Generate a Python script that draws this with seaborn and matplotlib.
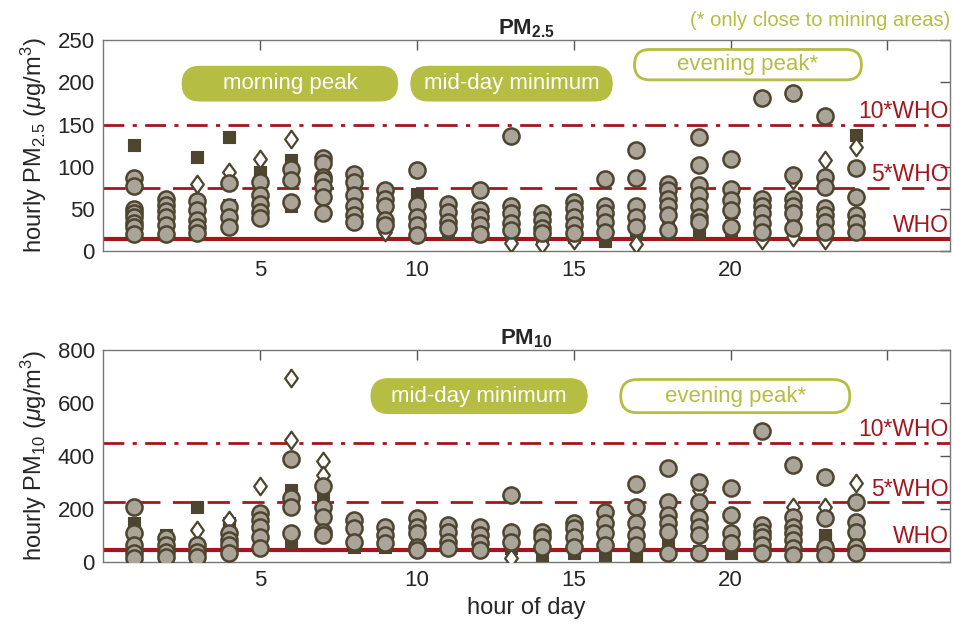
import numpy as np
import pandas as pd
import seaborn as sns
import matplotlib.pyplot as plt
from matplotlib.patches import FancyBboxPatch
from matplotlib.path import Path

sns.set_style("white")
plt.rcParams["font.family"] = ["Liberation Sans", "DejaVu Sans"]
plt.rcParams["mathtext.fontset"] = "custom"
plt.rcParams["mathtext.rm"] = "Liberation Sans"
plt.rcParams["mathtext.it"] = "Liberation Sans:italic"
plt.rcParams["mathtext.bf"] = "Liberation Sans:bold"

hours = list(range(1, 25))

# PM2.5 hourly concentrations per site type (index 0 = hour 1)
pm25_circles = [
    [87, 77, 50, 45, 41, 33, 29, 20], [62, 55, 48, 41, 31, 20], [60, 49, 37, 29, 21],
    [81, 52, 41, 29], [82, 66, 56, 47, 39], [97, 84, 58],
    [110, 104, 88, 84, 76, 64, 45], [91, 82, 66, 54, 43, 35], [72, 62, 54, 37, 31],
    [96, 55, 41, 31, 19], [56, 47, 35, 27], [73, 49, 41, 31, 20],
    [137, 54, 45, 33, 25], [45, 37, 27, 21], [58, 51, 41, 31, 21],
    [85, 53, 45, 35, 23], [120, 87, 53, 41, 29], [80, 72, 62, 53, 43, 25],
    [135, 102, 78, 66, 53, 41, 35], [109, 74, 61, 49, 29], [182, 62, 54, 45, 33, 23],
    [188, 90, 62, 54, 45, 27], [160, 88, 76, 51, 43, 35, 23], [99, 64, 43, 33, 23],
]
pm25_squares = [
    [126, 48, 38], [55, 50], [112, 48, 41], [135, 55, 52], [94, 84, 72], [108, 53],
    [82, 78], [52], [38, 32], [68, 66, 38, 24], [22], [],
    [23], [18], [17], [15, 12], [21], [28, 23],
    [21], [46, 25], [], [47, 33], [], [138, 42],
]
pm25_diamonds = [
    [], [], [80], [94], [109], [133], [], [62], [23], [], [], [],
    [10], [9], [13], [], [9], [], [], [], [13], [84, 17], [108, 13], [124],
]

# PM10 hourly concentrations per site type (index 0 = hour 1)
pm10_circles = [
    [209, 108, 64, 33, 15], [90, 64, 39, 20], [64, 39, 20], [108, 83, 64, 33],
    [186, 159, 133, 96, 52], [388, 241, 209, 108], [287, 209, 171, 115, 102],
    [159, 127, 75], [133, 102, 70], [165, 133, 108, 58, 46], [140, 115, 77, 52],
    [133, 102, 71, 46], [253, 115, 77], [115, 96, 58], [146, 127, 96, 58],
    [190, 146, 108, 64], [295, 209, 146, 102, 64], [354, 228, 177, 146, 115, 33],
    [300, 228, 165, 133, 102, 33], [278, 177, 108, 71], [493, 140, 115, 96, 64, 33],
    [364, 171, 133, 108, 83, 52, 26], [320, 165, 58, 26], [228, 152, 115, 58, 33],
]
pm10_squares = [
    [146, 115], [102], [209, 55], [146, 121], [127, 108], [272, 253, 77],
    [247], [83, 58], [77, 58], [96, 77], [60], [55],
    [52], [26], [33], [26], [33, 20], [71],
    [40], [102, 33], [100, 80], [102], [102, 90], [115, 96],
]
pm10_diamonds = [
    [], [], [121], [159], [287], [694, 461], [379, 329], [], [], [], [], [],
    [14], [], [], [], [], [], [272], [], [], [209], [207], [297],
]

who_pm25 = 15
who_pm10 = 45

RED = "#a3161e"
OLIVE = "#b5bd42"
EDGE = "#4e4530"
GREY = "#aaa499"

diamond = Path([(0, 1), (0.72, 0), (0, -1), (-0.72, 0), (0, 1)],
               [Path.MOVETO, Path.LINETO, Path.LINETO, Path.LINETO, Path.CLOSEPOLY])


def to_frame(lists):
    rows = [(h, v) for h, vals in zip(hours, lists) for v in vals]
    return pd.DataFrame(rows, columns=["hour", "value"])


fig = plt.figure(figsize=(9.54, 6.28), dpi=100)
ax1 = fig.add_axes([0.108, 0.600, 0.888, 0.336])
ax2 = fig.add_axes([0.108, 0.105, 0.888, 0.338])


def pill(ax, x0, x1, y0, y1, text, filled):
    ax_bbox = ax.get_window_extent()
    W, H = ax_bbox.width, ax_bbox.height
    xl, xr = ax.get_xlim()
    yb, yt = ax.get_ylim()
    fx0 = (x0 - xl) / (xr - xl)
    fx1 = (x1 - xl) / (xr - xl)
    fy0 = (y0 - yb) / (yt - yb)
    fy1 = (y1 - yb) / (yt - yb)
    r = (fy1 - fy0) * H / 2 / W
    patch = FancyBboxPatch((fx0, fy0), fx1 - fx0, fy1 - fy0,
                           boxstyle=f"round,pad=0,rounding_size={r}",
                           mutation_aspect=W / H, transform=ax.transAxes,
                           facecolor=OLIVE if filled else "white",
                           edgecolor=OLIVE, linewidth=2, zorder=1, clip_on=False)
    ax.add_patch(patch)
    ax.text((fx0 + fx1) / 2, (fy0 + fy1) / 2, text, transform=ax.transAxes,
            ha="center", va="center", fontsize=16,
            color="white" if filled else OLIVE, zorder=2)


def panel(ax, circles, squares, diamonds, who, ymax, yticks, ylabel, title):
    ax.set_xlim(0, 27)
    ax.set_ylim(0, ymax)
    ax.axhline(who, color=RED, lw=3, zorder=2)
    ax.axhline(5 * who, color=RED, lw=2, ls=(0, (8, 4.5)), zorder=2)
    ax.axhline(10 * who, color=RED, lw=2, ls=(0, (7.5, 3, 1.5, 3)), zorder=2)
    sns.scatterplot(data=to_frame(squares), x="hour", y="value", marker="s", s=64,
                    color=EDGE, edgecolor=EDGE, linewidth=0.8, ax=ax, zorder=3)
    sns.scatterplot(data=to_frame(diamonds), x="hour", y="value", marker=diamond, s=160,
                    color="white", edgecolor=EDGE, linewidth=1.6, ax=ax, zorder=4)
    sns.scatterplot(data=to_frame(circles), x="hour", y="value", marker="o", s=135,
                    color=GREY, edgecolor=EDGE, linewidth=1.8, ax=ax, zorder=5)
    for mult, lab in [(10, "10*WHO"), (5, "5*WHO"), (1, "WHO")]:
        ax.text(26.95, who * mult + ymax * 0.062, lab, ha="right", va="center",
                color=RED, fontsize=16.5, zorder=6)
    ax.set_xticks([5, 10, 15, 20, 25])
    ax.set_xticklabels(["5", "10", "15", "20", ""])
    ax.set_yticks(yticks)
    ax.tick_params(direction="in", length=7, width=1, color="#555555",
                   top=True, right=True, labelsize=16, pad=6)
    for sp in ax.spines.values():
        sp.set_color("#777777")
        sp.set_linewidth(1)
    ax.set_ylabel(ylabel, fontsize=17, labelpad=6)
    ax.set_xlabel("")
    ax.set_title(title, fontsize=16, fontweight="bold", pad=4)


panel(ax1, pm25_circles, pm25_squares, pm25_diamonds, who_pm25, 250,
      [0, 50, 100, 150, 200, 250], r"hourly PM$_{2.5}$ ($\mu$g/m$^3$)", r"PM$_{\mathbf{2.5}}$")
panel(ax2, pm10_circles, pm10_squares, pm10_diamonds, who_pm10, 800,
      [0, 200, 400, 600, 800], r"hourly PM$_{10}$ ($\mu$g/m$^3$)", r"PM$_{\mathbf{10}}$")
ax2.set_xlabel("hour of day", fontsize=17, labelpad=4)

pill(ax1, 2.55, 9.36, 179, 218, "morning peak", True)
pill(ax1, 9.84, 16.2, 179, 218, "mid-day minimum", True)
pill(ax1, 16.94, 24.17, 203, 239, "evening peak*", False)
pill(ax2, 8.57, 15.4, 563, 688, "mid-day minimum", True)
pill(ax2, 16.5, 23.8, 563, 688, "evening peak*", False)

fig.text(0.996, 0.968, "(* only close to mining areas)", ha="right", va="center",
         color=OLIVE, fontsize=14.5)

fig.savefig("out.png", dpi=100)
